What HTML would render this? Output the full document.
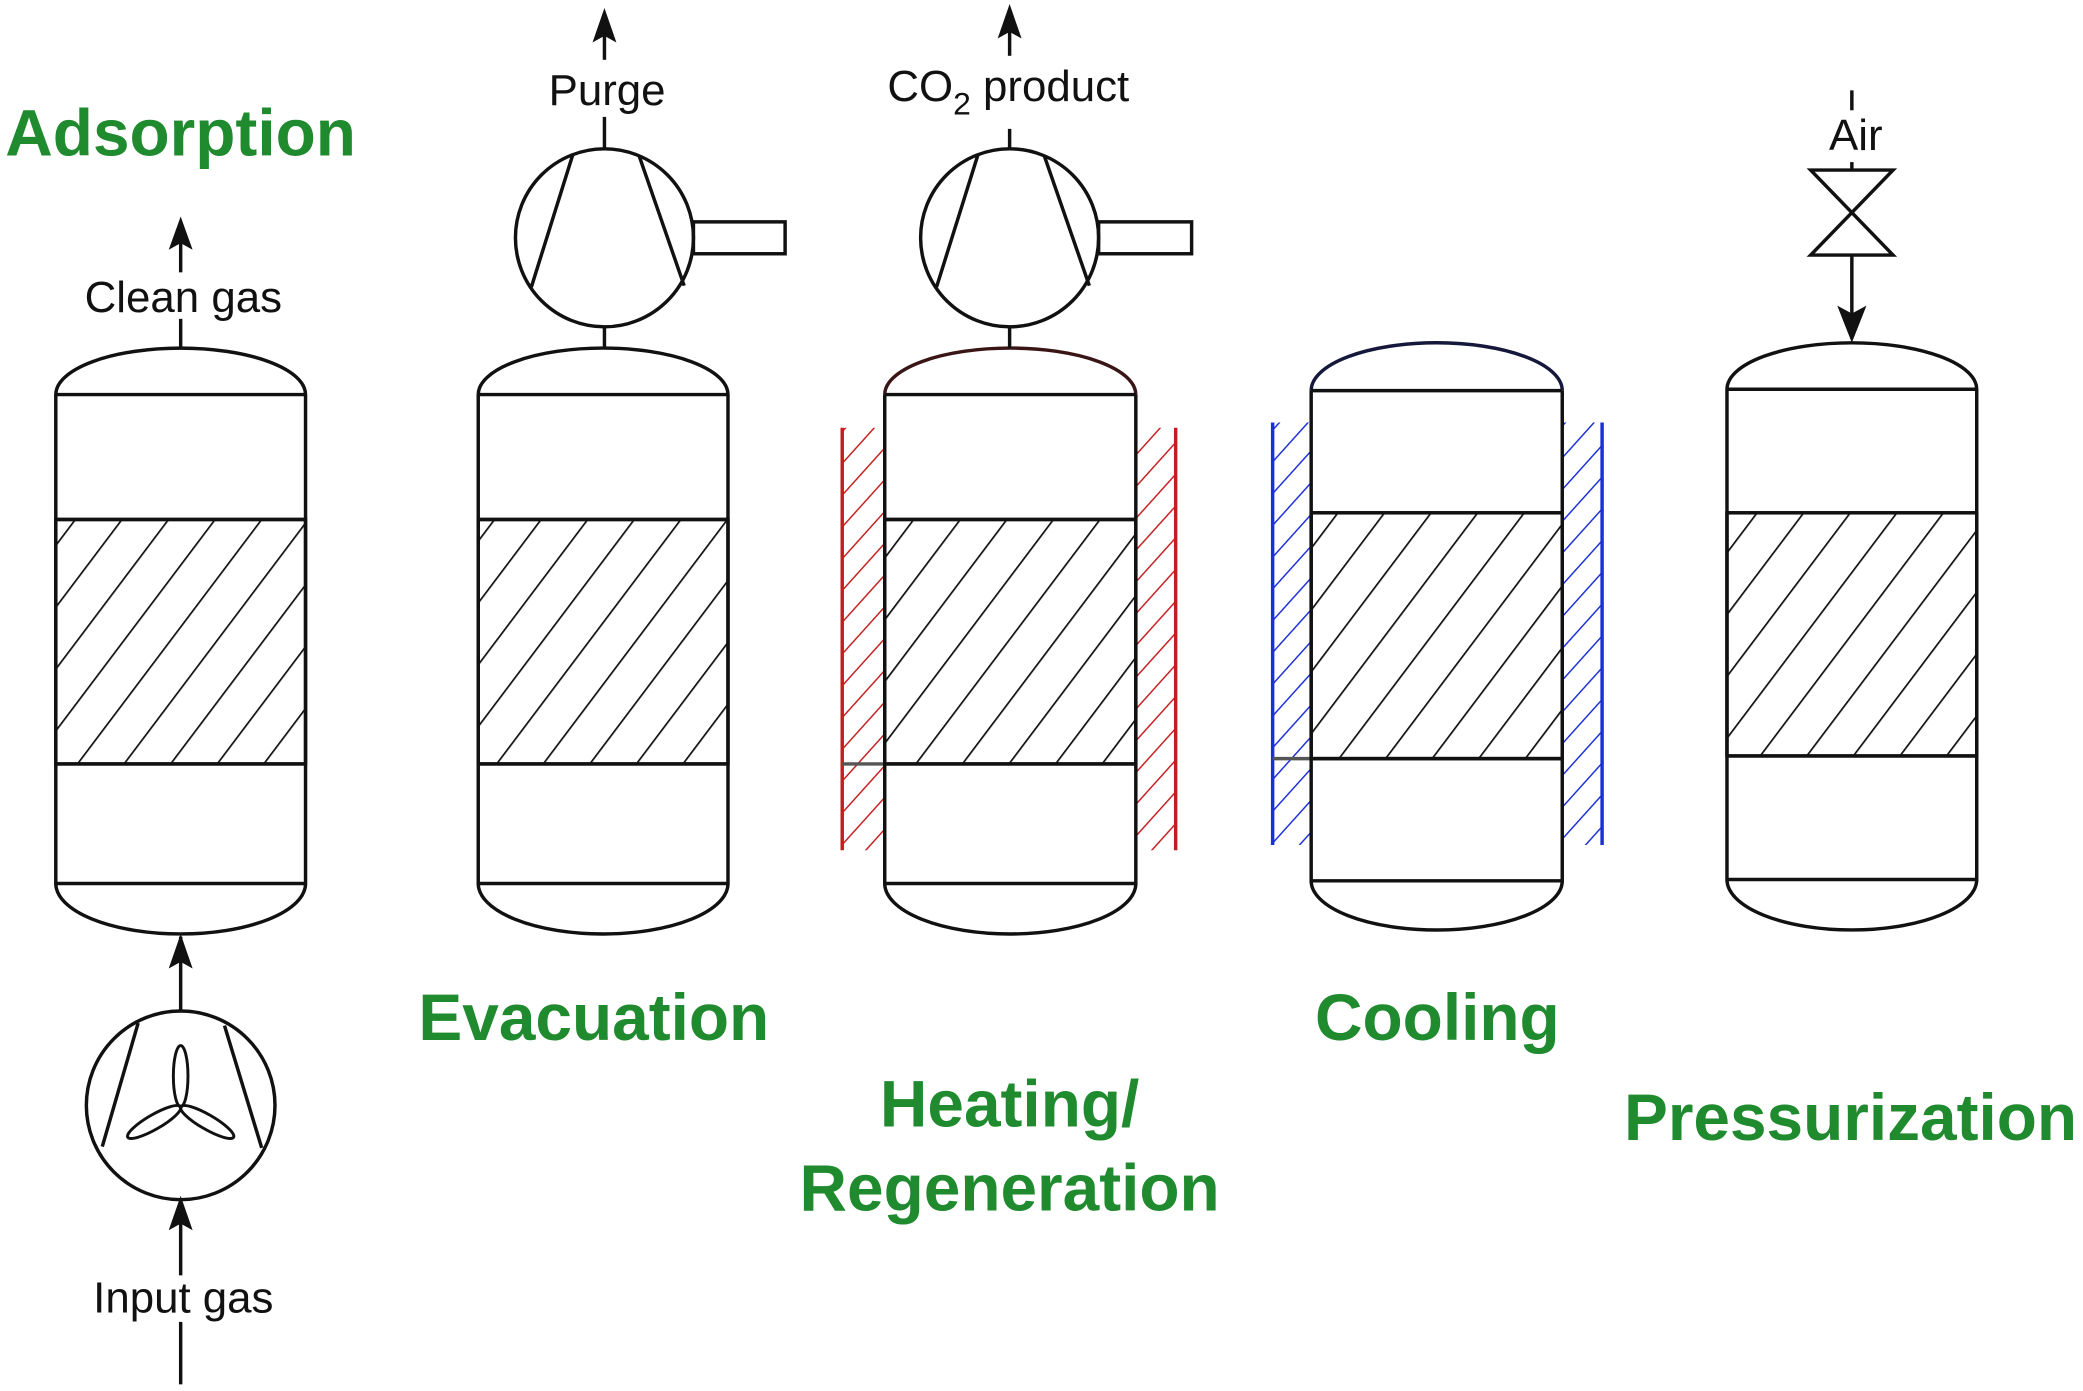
<!DOCTYPE html>
<html><head><meta charset="utf-8"><style>
html,body{margin:0;padding:0;background:#fff;}
svg{display:block;}
text{font-family:"Liberation Sans",sans-serif;}
.t{fill:#1f8a2e;font-weight:bold;font-size:49.5px;}
.l{fill:#111;font-size:33px;}
</style></head><body>
<svg width="2083" height="1391" viewBox="0 0 1568 1047" preserveAspectRatio="none" xmlns="http://www.w3.org/2000/svg">
<defs>
<pattern id="h" patternUnits="userSpaceOnUse" width="28" height="28" patternTransform="rotate(37)">
<line x1="0" y1="0" x2="0" y2="28" stroke="#111" stroke-width="2.6"/></pattern>
<pattern id="hr" patternUnits="userSpaceOnUse" width="16" height="16" patternTransform="rotate(42)">
<line x1="0" y1="0" x2="0" y2="16" stroke="#c41e1e" stroke-width="2.2"/></pattern>
<pattern id="hb" patternUnits="userSpaceOnUse" width="16" height="16" patternTransform="rotate(42)">
<line x1="0" y1="0" x2="0" y2="16" stroke="#1a2fd6" stroke-width="2.2"/></pattern>
</defs>
<g fill="none" stroke="#111" stroke-width="2.6">
<rect x="633" y="322" width="33" height="318" fill="url(#hr)" stroke="none"/>
<rect x="855" y="322" width="31" height="318" fill="url(#hr)" stroke="none"/>
<line x1="634" y1="322" x2="634" y2="640" stroke="#c41e1e"/>
<line x1="885" y1="322" x2="885" y2="640" stroke="#c41e1e"/>
<line x1="634" y1="575" x2="666" y2="575" stroke="#555"/>
<rect x="957" y="318" width="30" height="318" fill="url(#hb)" stroke="none"/>
<rect x="1176" y="318" width="31" height="318" fill="url(#hb)" stroke="none"/>
<line x1="958" y1="318" x2="958" y2="636" stroke="#1a2fd6"/>
<line x1="1206" y1="318" x2="1206" y2="636" stroke="#1a2fd6"/>
<line x1="958" y1="571" x2="987" y2="571" stroke="#555"/>

<g>
<rect x="42" y="391" width="188" height="184" fill="url(#h)"/>
<path d="M42 297 A94 35 0 0 1 230 297 Z M42 297 V665 H230 V297 M42 665 A94 38 0 0 0 230 665"/>
<line x1="42" y1="391" x2="230" y2="391"/><line x1="42" y1="575" x2="230" y2="575"/>
</g>
<g>
<rect x="360" y="391" width="188" height="184" fill="url(#h)"/>
<path d="M360 297 A94 35 0 0 1 548 297 Z M360 297 V665 H548 V297 M360 665 A94 38 0 0 0 548 665"/>
<line x1="360" y1="391" x2="548" y2="391"/><line x1="360" y1="575" x2="548" y2="575"/>
</g>
<g>
<rect x="666" y="391" width="189" height="184" fill="url(#h)"/>
<path d="M666 297 A94.5 35 0 0 1 855 297" stroke="#3a1515"/>
<path d="M666 297 H855 M666 297 V665 H855 V297 M666 665 A94.5 38 0 0 0 855 665"/>
<line x1="666" y1="391" x2="855" y2="391"/><line x1="666" y1="575" x2="855" y2="575"/>
</g>
<g>
<rect x="987" y="386" width="189" height="185" fill="url(#h)"/>
<path d="M987 294 A94.5 36 0 0 1 1176 294" stroke="#15183a"/>
<path d="M987 294 H1176 M987 294 V663 H1176 V294 M987 663 A94.5 37 0 0 0 1176 663"/>
<line x1="987" y1="386" x2="1176" y2="386"/><line x1="987" y1="571" x2="1176" y2="571"/>
</g>
<g>
<rect x="1300" y="386" width="188" height="183" fill="url(#h)"/>
<path d="M1300 293 A94 35 0 0 1 1488 293 Z M1300 293 V662 H1488 V293 M1300 662 A94 38 0 0 0 1488 662"/>
<line x1="1300" y1="386" x2="1488" y2="386"/><line x1="1300" y1="569" x2="1488" y2="569"/>
</g>

<line x1="136" y1="240" x2="136" y2="262"/>
<line x1="136" y1="205" x2="136" y2="180"/>
<line x1="136" y1="705" x2="136" y2="761" />
<line x1="136" y1="903" x2="136" y2="960"/>
<line x1="136" y1="995" x2="136" y2="1042"/>
<circle cx="136" cy="832" r="71"/>
<line x1="104" y1="770" x2="77" y2="863"/>
<line x1="169" y1="772" x2="197" y2="864"/>
<g stroke-width="2.2">
<ellipse cx="136" cy="810" rx="5.5" ry="23"/>
<ellipse cx="136" cy="810" rx="5.5" ry="23" transform="rotate(120 136 833)"/>
<ellipse cx="136" cy="810" rx="5.5" ry="23" transform="rotate(240 136 833)"/>
</g>

<g>
<circle cx="455" cy="179" r="67"/>
<line x1="400" y1="216" x2="431" y2="117"/>
<line x1="481" y1="117" x2="515" y2="215"/>
<rect x="522" y="167" width="69" height="24"/>
<line x1="455" y1="246" x2="455" y2="262"/>
<line x1="455" y1="88" x2="455" y2="112"/>
<line x1="455" y1="45" x2="455" y2="25"/>
</g>
<g>
<circle cx="760" cy="179" r="67"/>
<line x1="705" y1="216" x2="736" y2="117"/>
<line x1="786" y1="117" x2="820" y2="215"/>
<rect x="827" y="167" width="70" height="24"/>
<line x1="760" y1="246" x2="760" y2="262"/>
<line x1="760" y1="97" x2="760" y2="112"/>
<line x1="760" y1="42" x2="760" y2="22"/>
</g>
<line x1="1394" y1="68" x2="1394" y2="83"/>
<line x1="1394" y1="122" x2="1394" y2="128"/>
<path d="M1363 128 H1425 L1363 192 H1425 Z" stroke-linejoin="miter"/>
<line x1="1394" y1="192" x2="1394" y2="240"/>
</g>
<g fill="#111">
<polygon points="136,163 127,188 136,183 145,188"/>
<polygon points="136,703 127,729 136,724 145,729"/>
<polygon points="136,900 127,926 136,921 145,926"/>
<polygon points="455,6 446,32 455,27 464,32"/>
<polygon points="760,3 751,29 760,24 769,29"/>
<polygon points="1394,258 1383,230 1394,236 1405,230"/>
</g>
<text class="l" x="138" y="235" text-anchor="middle">Clean gas</text>
<text class="l" x="138" y="988" text-anchor="middle">Input gas</text>
<text class="l" x="457" y="79" text-anchor="middle">Purge</text>
<text class="l" x="668" y="76">CO<tspan font-size="24" dy="10">2</tspan><tspan dy="-10"> product</tspan></text>
<text class="l" x="1397" y="113" text-anchor="middle">Air</text>
<text class="t" x="4" y="117">Adsorption</text>
<text class="t" x="447" y="783" text-anchor="middle">Evacuation</text>
<text class="t" x="760" y="848" text-anchor="middle">Heating/</text>
<text class="t" x="760" y="911" text-anchor="middle">Regeneration</text>
<text class="t" x="1082" y="783" text-anchor="middle">Cooling</text>
<text class="t" x="1393" y="858" text-anchor="middle">Pressurization</text>
</svg>
</body></html>
